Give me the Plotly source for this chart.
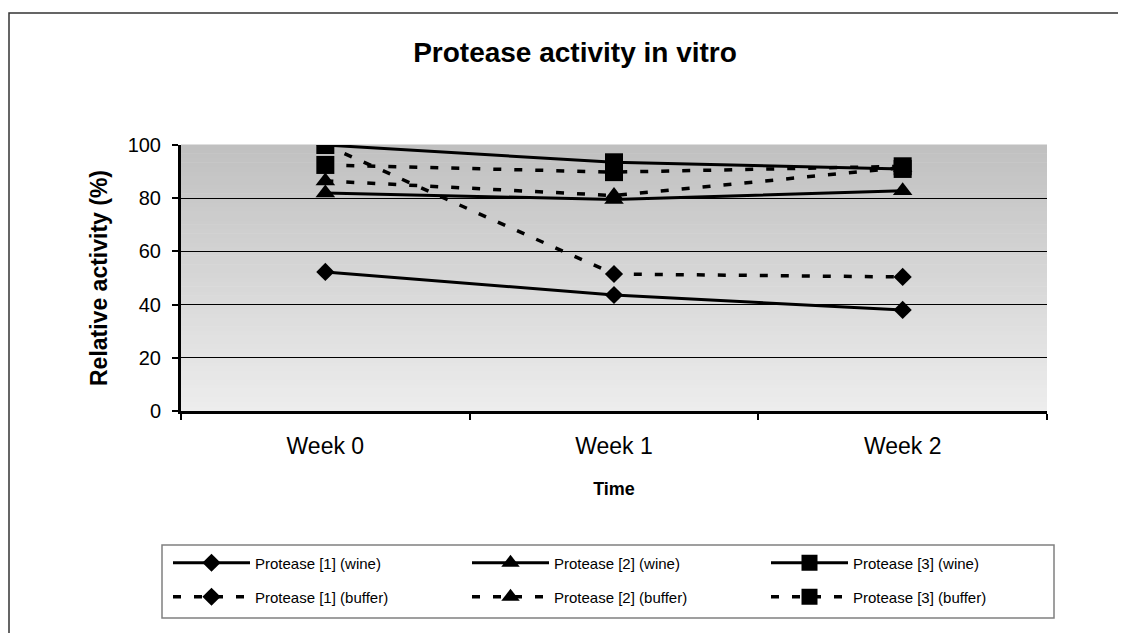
import plotly.graph_objects as go

weeks = ["Week 0", "Week 1", "Week 2"]
p1_wine = [52.3, 43.6, 38.0]
p2_wine = [82.0, 79.5, 82.8]
p3_wine = [100.0, 93.5, 91.0]
p1_buffer = [100.0, 51.5, 50.4]
p2_buffer = [86.5, 81.0, 91.5]
p3_buffer = [92.5, 89.8, 92.0]

names = [
    "Protease [1] (wine)", "Protease [2] (wine)", "Protease [3] (wine)",
    "Protease [1] (buffer)", "Protease [2] (buffer)", "Protease [3] (buffer)",
]
series = [p1_wine, p2_wine, p3_wine, p1_buffer, p2_buffer, p3_buffer]
symbols = ["diamond", "triangle-up", "square", "diamond", "triangle-up", "square"]
sizes = [14, 17, 18, 14, 17, 18]
dashes = ["solid", "solid", "solid", "8px,13px", "8px,13px", "8px,13px"]
legends = ["legend", "legend", "legend", "legend2", "legend2", "legend2"]

FONT = "Liberation Sans, Arial, sans-serif"

# geometry (page has an 8px body margin)
W, H = 1118, 625
L, R, T, B = 173, 79, 137, 222
PW, PH = W - L - R, H - T - B


def px_x(px):  # page pixel -> paper x
    return (px - 8 - L) / PW


def px_y(py):  # page pixel -> paper y
    return (H - B - (py - 8)) / PH


fig = go.Figure()
for name, vals, sym, sz, dsh, lg in zip(names, series, symbols, sizes, dashes, legends):
    fig.add_trace(go.Scatter(
        x=weeks, y=vals, name=name, mode="lines+markers", legend=lg,
        line=dict(color="black", width=3 if dsh == "solid" else 3.5, dash=dsh),
        marker=dict(symbol=sym, size=sz, color="black"),
    ))

# gradient plot background
shapes = []
n = 60
top = (192, 192, 192)
bot = (237, 237, 237)
for i in range(n):
    t = (i + 0.5) / n
    c = tuple(round(bot[k] + (top[k] - bot[k]) * t) for k in range(3))
    shapes.append(dict(type="rect", xref="paper", yref="paper",
                       x0=0, x1=1, y0=i / n, y1=(i + 1) / n + 0.002,
                       fillcolor="rgb(%d,%d,%d)" % c, line=dict(width=0),
                       layer="below"))
# outer chart border
shapes.append(dict(type="rect", xref="paper", yref="paper",
                   x0=px_x(9), x1=px_x(1200), y0=px_y(700), y1=px_y(13),
                   line=dict(color="#333333", width=1.5), fillcolor="rgba(0,0,0,0)",
                   layer="below"))
# legend box
shapes.append(dict(type="rect", xref="paper", yref="paper",
                   x0=px_x(162), x1=px_x(1054), y0=px_y(618), y1=px_y(545),
                   line=dict(color="#808080", width=1.5), fillcolor="white",
                   layer="below"))

leg_common = dict(orientation="h", xanchor="left", yanchor="middle",
                  entrywidth=207, entrywidthmode="pixels", itemwidth=77,
                  borderwidth=0, bgcolor="rgba(0,0,0,0)",
                  font=dict(size=15, family=FONT, color="black"))

fig.update_layout(
    width=W, height=H,
    margin=dict(l=L, r=R, t=T, b=B),
    paper_bgcolor="white", plot_bgcolor="white",
    font=dict(family=FONT, color="black", size=15),
    title=dict(text="<b>Protease activity in vitro</b>", x=(575 - 8) / W, xanchor="center",
               y=1 - (52 - 8) / H, yanchor="middle", font=dict(size=28, family=FONT)),
    shapes=shapes,
    showlegend=True,
    legend=dict(x=px_x(168), y=px_y(563), **leg_common),
    legend2=dict(x=px_x(168), y=px_y(597), **leg_common),
)
fig.update_xaxes(
    type="category", range=[-0.5, 2.5],
    showline=True, linecolor="black", linewidth=3,
    ticks="outside", tickson="boundaries", ticklen=6, tickwidth=2, tickcolor="black",
    showgrid=False, tickfont=dict(size=23), ticklabelstandoff=12,
    title=dict(text="<b>Time</b>", font=dict(size=18), standoff=25),
)
fig.update_yaxes(
    range=[0, 100], tickvals=[0, 20, 40, 60, 80, 100],
    showline=True, linecolor="black", linewidth=3,
    ticks="outside", ticklen=6, tickwidth=2, tickcolor="black",
    showgrid=True, gridcolor="black", gridwidth=1, zeroline=False,
    tickfont=dict(size=20), ticklabelstandoff=7,
    title=dict(text="<b>Relative activity (%)</b>", font=dict(size=23), standoff=14),
)

fig.write_html("out.html")
